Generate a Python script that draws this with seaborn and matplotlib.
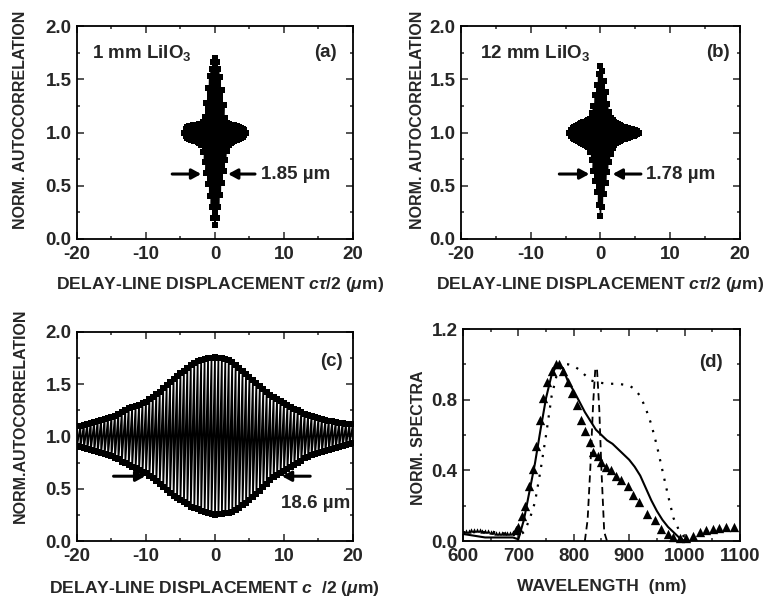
import numpy as np
import matplotlib
matplotlib.use("Agg")
import matplotlib.pyplot as plt
from matplotlib.ticker import MultipleLocator
import seaborn as sns

# ---- (a) 1 mm LiIO3 autocorrelation: fringe envelopes (upper / lower) ----
delay_a = np.arange(-4.5, 4.51, 0.25)
upper_a = [1.00, 1.03, 1.05, 1.06, 1.06, 1.07, 1.07, 1.07,
           1.07, 1.08, 1.08, 1.10, 1.15, 1.28, 1.42, 1.53,
           1.60, 1.66, 1.70, 1.66, 1.60, 1.52, 1.40, 1.26,
           1.14, 1.09, 1.08, 1.07, 1.07, 1.07, 1.06, 1.06,
           1.05, 1.04, 1.03, 1.02, 1.00]
lower_a = [1.00, 0.97, 0.95, 0.94, 0.93, 0.93, 0.92, 0.92,
           0.91, 0.90, 0.88, 0.82, 0.72, 0.62, 0.52, 0.40,
           0.30, 0.20, 0.13, 0.20, 0.30, 0.41, 0.53, 0.64,
           0.74, 0.83, 0.88, 0.90, 0.91, 0.92, 0.93, 0.93,
           0.94, 0.95, 0.96, 0.98, 1.00]

# ---- (b) 12 mm LiIO3 ----
delay_b = np.arange(-4.5, 5.51, 0.25)
upper_b = [1.00, 1.02, 1.04, 1.05, 1.06, 1.07, 1.08, 1.09,
           1.10, 1.10, 1.11, 1.12, 1.13, 1.18, 1.25, 1.35,
           1.45, 1.55, 1.62, 1.58, 1.48, 1.38, 1.27, 1.19,
           1.14, 1.12, 1.10, 1.09, 1.08, 1.07, 1.06, 1.05,
           1.05, 1.04, 1.04, 1.03, 1.03, 1.02, 1.02, 1.01, 1.00]
lower_b = [1.00, 0.97, 0.95, 0.94, 0.93, 0.92, 0.91, 0.90,
           0.89, 0.88, 0.87, 0.86, 0.82, 0.74, 0.64, 0.54,
           0.44, 0.32, 0.22, 0.30, 0.42, 0.53, 0.63, 0.72,
           0.80, 0.85, 0.88, 0.90, 0.91, 0.92, 0.93, 0.94,
           0.94, 0.95, 0.95, 0.96, 0.97, 0.97, 0.98, 0.99, 1.00]

# ---- (c) long pulse ----
delay_c = np.arange(-20, 20.01, 0.5)
upper_c = [1.10, 1.10, 1.11, 1.12, 1.13, 1.14, 1.15, 1.16, 1.17,
           1.18, 1.19, 1.20, 1.22, 1.23, 1.25, 1.27, 1.28, 1.29,
           1.30, 1.32, 1.33, 1.36, 1.38, 1.41, 1.43, 1.46, 1.49,
           1.52, 1.55, 1.58, 1.61, 1.63, 1.66, 1.68, 1.70, 1.72,
           1.73, 1.74, 1.75, 1.75, 1.76, 1.75, 1.75, 1.74, 1.73,
           1.71, 1.68, 1.66, 1.63, 1.60, 1.57, 1.54, 1.51, 1.48,
           1.45, 1.43, 1.40, 1.38, 1.36, 1.34, 1.32, 1.30, 1.28,
           1.26, 1.25, 1.23, 1.22, 1.21, 1.20, 1.19, 1.18, 1.17,
           1.16, 1.15, 1.15, 1.14, 1.13, 1.13, 1.12, 1.12, 1.12]
lower_c = [0.91, 0.90, 0.89, 0.88, 0.87, 0.86, 0.85, 0.84, 0.83,
           0.82, 0.81, 0.79, 0.78, 0.76, 0.75, 0.73, 0.71, 0.70,
           0.68, 0.66, 0.65, 0.62, 0.60, 0.57, 0.55, 0.52, 0.49,
           0.46, 0.43, 0.41, 0.39, 0.37, 0.35, 0.33, 0.32, 0.31,
           0.29, 0.28, 0.27, 0.26, 0.25, 0.26, 0.26, 0.27, 0.27,
           0.28, 0.30, 0.32, 0.34, 0.36, 0.39, 0.42, 0.45, 0.48,
           0.52, 0.55, 0.58, 0.61, 0.63, 0.65, 0.67, 0.69, 0.71,
           0.73, 0.75, 0.77, 0.79, 0.80, 0.82, 0.83, 0.84, 0.85,
           0.86, 0.87, 0.88, 0.89, 0.90, 0.91, 0.92, 0.93, 0.94]

# ---- (d) spectra ----
wl_solid = [600, 620, 640, 660, 680, 690, 700, 710, 720, 730, 740, 750, 760,
            770, 780, 790, 800, 810, 820, 830, 840, 850, 860, 870, 880, 890,
            900, 910, 920, 930, 940, 950, 960, 970, 980, 990, 1000]
spec_solid = [0.04, 0.03, 0.02, 0.02, 0.02, 0.02, 0.01, 0.12, 0.28, 0.44, 0.63,
              0.81, 0.94, 1.00, 0.98, 0.90, 0.85, 0.79, 0.73, 0.68, 0.63, 0.60,
              0.57, 0.55, 0.52, 0.49, 0.46, 0.42, 0.37, 0.30, 0.23, 0.17, 0.12,
              0.08, 0.05, 0.02, 0.00]
wl_dot = [600, 620, 640, 660, 680, 700, 710, 720, 730, 740, 750, 760, 770, 780,
          790, 800, 810, 820, 830, 840, 860, 880, 900, 910, 920, 930, 940, 950,
          960, 970, 980, 990, 1000, 1010]
spec_dot = [0.05, 0.05, 0.05, 0.05, 0.04, 0.03, 0.05, 0.12, 0.22, 0.40, 0.60,
            0.82, 0.95, 1.00, 1.00, 0.99, 0.97, 0.94, 0.91, 0.90, 0.89, 0.89,
            0.88, 0.86, 0.82, 0.75, 0.66, 0.54, 0.40, 0.26, 0.13, 0.06, 0.02,
            0.00]
wl_dash = [820, 825, 830, 835, 839, 842, 846, 850, 855, 860]
spec_dash = [0.00, 0.12, 0.42, 0.78, 0.98, 0.97, 0.75, 0.40, 0.05, 0.00]
wl_tri = [695, 700, 706, 712, 719, 726, 732, 739, 745, 751, 760, 768, 774, 781,
          790, 796, 805, 813, 821, 829, 835, 843, 850, 859, 868, 877, 886, 898,
          907, 918, 933, 946, 958, 970, 979, 991, 1003, 1015, 1027, 1039, 1051,
          1063, 1075, 1090]
spec_tri = [0.06, 0.08, 0.14, 0.20, 0.31, 0.41, 0.54, 0.685, 0.81, 0.90, 0.96,
            1.00, 1.00, 0.96, 0.90, 0.84, 0.77, 0.685, 0.62, 0.56, 0.505, 0.48,
            0.45, 0.42, 0.40, 0.37, 0.345, 0.31, 0.26, 0.22, 0.155, 0.117, 0.07,
            0.042, 0.023, 0.019, 0.019, 0.03, 0.05, 0.06, 0.07, 0.076, 0.08, 0.08]
wl_tail = np.arange(600, 691, 5)
spec_tail = [0.05, 0.055, 0.058, 0.06, 0.06, 0.06, 0.06, 0.058, 0.056, 0.055,
             0.053, 0.05, 0.048, 0.046, 0.045, 0.045, 0.046, 0.048, 0.052]

sns.set_style("ticks")
plt.rcParams['font.family'] = ['Liberation Sans', 'DejaVu Sans']
plt.rcParams['font.weight'] = 'bold'
plt.rcParams['axes.labelweight'] = 'bold'
plt.rcParams['axes.unicode_minus'] = False
plt.rcParams['mathtext.fontset'] = 'custom'
plt.rcParams['mathtext.rm'] = 'Liberation Sans:bold'
plt.rcParams['mathtext.it'] = 'Liberation Sans:bold:italic'
plt.rcParams['mathtext.bf'] = 'Liberation Sans:bold'

fig = plt.figure(figsize=(7.66, 5.97), dpi=100)
ax_a = fig.add_axes([0.1005, 0.5997, 0.3603, 0.3567])
ax_b = fig.add_axes([0.6018, 0.5997, 0.3642, 0.3567])
ax_c = fig.add_axes([0.1005, 0.0938, 0.3603, 0.3501])
ax_d = fig.add_axes([0.6044, 0.0938, 0.3616, 0.3551])


def style_axis(ax, xmaj, xmin, ymaj, ymin):
    ax.xaxis.set_major_locator(MultipleLocator(xmaj))
    ax.xaxis.set_minor_locator(MultipleLocator(xmin))
    ax.yaxis.set_major_locator(MultipleLocator(ymaj))
    ax.yaxis.set_minor_locator(MultipleLocator(ymin))
    ax.tick_params(which='both', direction='in', top=True, right=True,
                   width=1.1, labelsize=13.5, pad=4)
    ax.tick_params(axis='x', which='both', pad=5)
    ax.tick_params(which='major', length=5)
    ax.tick_params(which='minor', length=2.5)
    for sp in ax.spines.values():
        sp.set_linewidth(1.3)
        sp.set_color('black')


def fringes(ax, delay, upper, lower):
    # zig-zag between fringe maxima and minima, square markers on both
    xz = np.repeat(delay, 2)
    yz = np.column_stack([upper, lower]).ravel()
    sns.lineplot(x=xz, y=yz, sort=False, estimator=None, color='black',
                 lw=1.25, ax=ax)
    sns.scatterplot(x=np.concatenate([delay, delay]),
                    y=np.concatenate([upper, lower]), marker='s', s=13,
                    color='black', linewidth=0, ax=ax, zorder=3)


def arrows(ax, y, left, right):
    props = dict(arrowstyle='-|>,head_length=0.55,head_width=0.3', lw=2.2,
                 color='black', shrinkA=0, shrinkB=0)
    ax.annotate('', xy=(left[1], y), xytext=(left[0], y), arrowprops=props)
    ax.annotate('', xy=(right[1], y), xytext=(right[0], y), arrowprops=props)


xlab = r'DELAY-LINE DISPLACEMENT $c\tau$/2 ($\mu$m)'

# (a)
fringes(ax_a, delay_a, upper_a, lower_a)
arrows(ax_a, 0.61, (-6.2, -2.0), (5.8, 1.9))
ax_a.text(6.6, 0.61, '1.85 µm', fontsize=13.5, va='center', ha='left')
ax_a.text(-17.8, 1.75, r'1 mm LiIO$_3$', fontsize=13.5, va='center')
ax_a.text(17.7, 1.75, '(a)', fontsize=13.5, va='center', ha='right')
ax_a.set_xlim(-20, 20)
ax_a.set_ylim(0, 2)
style_axis(ax_a, 10, 5, 0.5, 0.25)
ax_a.set_xlabel(xlab, fontsize=12.6)
ax_a.set_ylabel('NORM. AUTOCORRELATION', fontsize=11.5)
ax_a.yaxis.set_label_coords(-0.178, 0.559)
ax_a.xaxis.set_label_coords(0.52, -0.169)

# (b)
fringes(ax_b, delay_b, upper_b, lower_b)
arrows(ax_b, 0.61, (-5.9, -1.6), (5.8, 1.75))
ax_b.text(6.5, 0.61, '1.78 µm', fontsize=13.5, va='center', ha='left')
ax_b.text(-17.3, 1.75, r'12 mm LiIO$_3$', fontsize=13.5, va='center')
ax_b.text(18.6, 1.75, '(b)', fontsize=13.5, va='center', ha='right')
ax_b.set_xlim(-20, 20)
ax_b.set_ylim(0, 2)
style_axis(ax_b, 10, 5, 0.5, 0.25)
ax_b.set_xlabel(xlab, fontsize=12.6)
ax_b.set_ylabel('NORM. AUTOCORRELATION', fontsize=11.5)
ax_b.yaxis.set_label_coords(-0.129, 0.559)
ax_b.xaxis.set_label_coords(0.497, -0.169)

# (c)
fringes(ax_c, delay_c, upper_c, lower_c)
arrows(ax_c, 0.62, (-14.7, -10.1), (13.8, 9.7))
ax_c.text(19.6, 0.36, '18.6 µm', fontsize=13.5, va='center', ha='right')
ax_c.text(18.5, 1.72, '(c)', fontsize=13.5, va='center', ha='right')
ax_c.set_xlim(-20, 20)
ax_c.set_ylim(0, 2)
style_axis(ax_c, 10, 5, 0.5, 0.25)
ax_c.set_xlabel(r'DELAY-LINE DISPLACEMENT $c$  /2 ($\mu$m)', fontsize=12.6)
ax_c.set_ylabel('NORM.AUTOCORRELATION', fontsize=11.5)
ax_c.yaxis.set_label_coords(-0.178, 0.6)
ax_c.xaxis.set_label_coords(0.496, -0.18)

# (d)
sns.lineplot(x=wl_solid, y=spec_solid, color='black', lw=1.5, ax=ax_d)
sns.lineplot(x=wl_dot, y=spec_dot, color='black', lw=1.6,
             linestyle=(0, (1, 3.5)), ax=ax_d)
sns.lineplot(x=wl_dash, y=spec_dash, color='black', lw=1.3,
             linestyle=(0, (4, 2.5)), ax=ax_d)
sns.scatterplot(x=wl_tri, y=spec_tri, marker='^', s=45, color='black',
                linewidth=0, ax=ax_d, zorder=3, clip_on=False)
sns.scatterplot(x=wl_tail, y=spec_tail, marker='^', s=10, color='black',
                linewidth=0, ax=ax_d, zorder=3)
ax_d.text(1069, 1.01, '(d)', fontsize=13.5, va='center', ha='right')
ax_d.set_xlim(600, 1100)
ax_d.set_ylim(0, 1.2)
style_axis(ax_d, 100, 50, 0.4, 0.2)
ax_d.set_xlabel('WAVELENGTH  (nm)', fontsize=12.6)
ax_d.set_ylabel('NORM. SPECTRA', fontsize=11.5)
ax_d.yaxis.set_label_coords(-0.134, 0.486)
ax_d.xaxis.set_label_coords(0.5, -0.178)

fig.savefig('out.png', dpi=100)
plt.close(fig)
